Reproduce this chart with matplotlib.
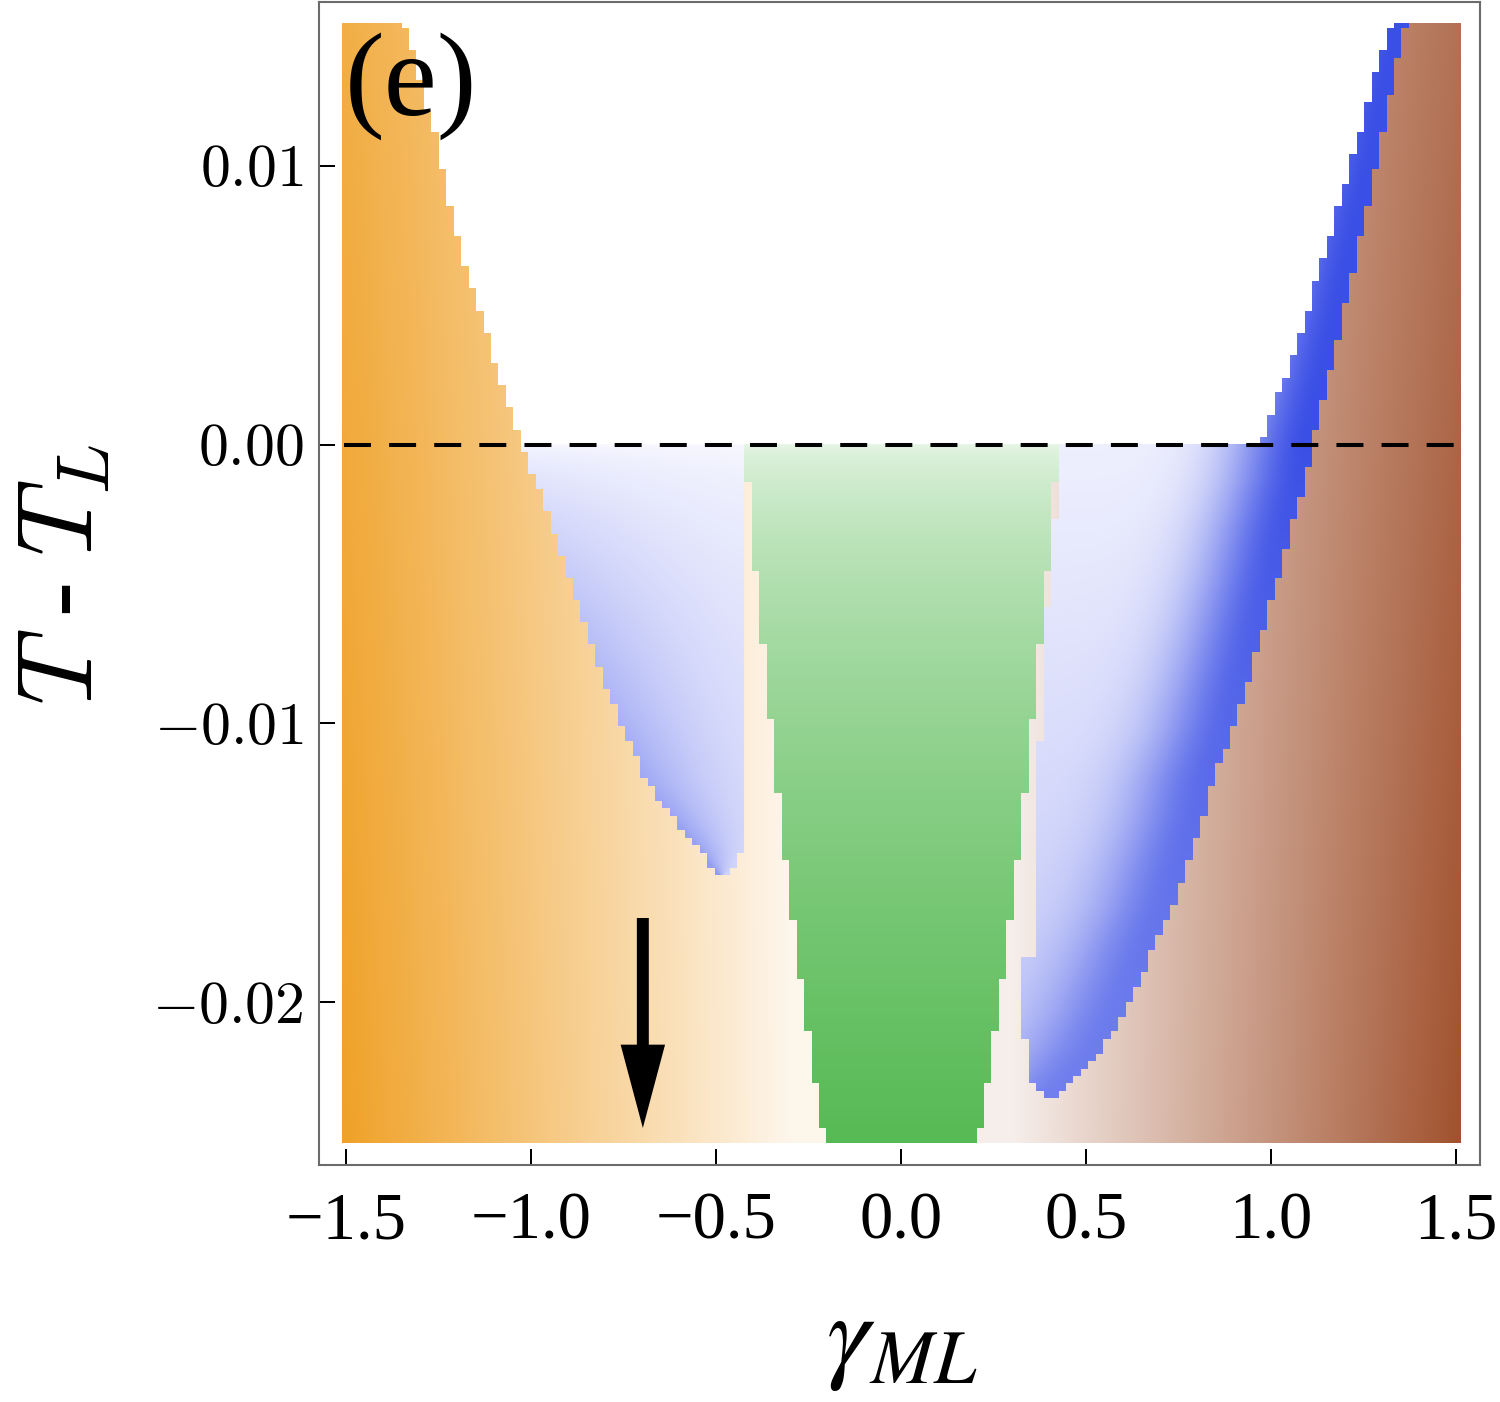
import numpy as np
import matplotlib
matplotlib.use('Agg')
import matplotlib.pyplot as plt

plt.rcParams['font.family'] = ['Liberation Serif', 'DejaVu Serif']
plt.rcParams['mathtext.fontset'] = 'stix'

# phase boundaries (T - T_L given in units of 1e-3)
orange_edge_y = np.array([15.10, 13.01, 11.11, 9.13, 7.24, 5.55, 3.87, 2.15, 0.46, -0.19,
                          -2.60, -4.97, -7.35, -9.78, -12.14, -13.36, -14.54, -15.15, -15.55]) * 1e-3
orange_edge_x = np.array([-1.342, -1.300, -1.257, -1.230, -1.197, -1.154, -1.116, -1.081, -1.038, -1.023,
                          -0.951, -0.890, -0.831, -0.767, -0.686, -0.618, -0.546, -0.511, -0.482])

left_blue_right_y = np.array([0.0, -13.9, -14.6, -15.15, -15.55]) * 1e-3
left_blue_right_x = np.array([-0.415, -0.415, -0.428, -0.450, -0.482])

green_y = np.array([0.0, -0.84, -3.07, -5.80, -8.38, -10.82, -13.19, -15.34, -17.34,
                    -19.28, -21.07, -22.72, -24.30, -25.06]) * 1e-3
green_halfwidth = np.array([0.418, 0.416, 0.403, 0.384, 0.365, 0.346, 0.327, 0.308, 0.289,
                            0.270, 0.251, 0.235, 0.214, 0.208])

right_blue_left_y = np.array([0.0, -1.74, -4.51, -6.29, -9.63, -13.82, -18.25, -18.5,
                              -21.4, -21.6, -22.9, -23.15, -23.45]) * 1e-3
right_blue_left_x = np.array([0.422, 0.416, 0.408, 0.389, 0.378, 0.355, 0.354, 0.330,
                              0.330, 0.349, 0.349, 0.368, 0.397])

brown_edge_y = np.array([15.10, 13.80, 11.40, 9.13, 6.99, 4.73, 2.68, 0.53, -1.26, -3.06,
                         -4.85, -6.65, -8.44, -10.24, -12.03, -13.47, -15.01, -16.59,
                         -18.02, -19.32, -20.40, -21.62, -22.34, -23.05, -23.45]) * 1e-3
brown_edge_x = np.array([1.362, 1.341, 1.303, 1.268, 1.232, 1.195, 1.159, 1.119, 1.092, 1.051,
                         1.016, 0.978, 0.938, 0.897, 0.843, 0.814, 0.773, 0.732,
                         0.681, 0.638, 0.600, 0.546, 0.503, 0.451, 0.397])

band_edge_y = np.array([15.10, 13.70, 11.76, 10.11, 8.17, 6.63, 4.95, 3.40, 2.07, 0.64, 0.0]) * 1e-3
band_edge_x = np.array([1.327, 1.286, 1.249, 1.214, 1.173, 1.138, 1.100, 1.065, 1.024, 0.989, 0.972])

left_blue_min = -15.55e-3
right_blue_min = -23.45e-3

xticks = [-1.5, -1.0, -0.5, 0.0, 0.5, 1.0, 1.5]
xtick_labels = ['\u22121.5', '\u22121.0', '\u22120.5', '0.0', '0.5', '1.0', '1.5']
yticks = [0.01, 0.0, -0.01, -0.02]
ytick_labels = ['$0.01$', '$0.00$', '$-0.01$', '$-0.02$']

arrow_x = -0.697
arrow_tail = -0.016985
arrow_tip = -0.024521

# extent of the density plot
x0, x1 = -1.511, 1.511
y0, y1 = -0.02506, 0.0151


def edge(y, ys, xs):
    order = np.argsort(ys)
    return np.interp(y, ys[order], xs[order])


def mix(c0, c1, t):
    t = np.clip(t, 0, 1)[..., None]
    return np.array(c0) * (1 - t) + np.array(c1) * t


nx, ny = 1118, 1121
xs = x0 + (np.arange(nx) + 0.5) * (x1 - x0) / nx
ys = y0 + (np.arange(ny) + 0.5) * (y1 - y0) / ny
X, Y = np.meshgrid(xs, ys)

# coarse cells give the stepped region edges
dx, dy = 0.02015, 0.0002666
Xq = (np.floor(X / dx) + 0.5) * dx
Yq = (np.floor(Y / dy) + 0.5) * dy
yfrac = (Y - y0) / (y1 - y0)

rgb = np.ones((ny, nx, 3))

left = Xq < 0
Lq = edge(Yq, orange_edge_y, orange_edge_x)
m = left & ((Yq < 0) | (Xq < Lq))
t = np.clip((-0.3 - X) / 1.2, 0, 1) * (1 - 0.15 * yfrac)
rgb[m] = mix((0.995, 0.965, 0.925), (0.94, 0.635, 0.16), t)[m]

right = ~left
Rq = edge(Yq, brown_edge_y, brown_edge_x)
m = right & ((Yq < 0) | (Xq > Rq))
t = np.clip((X - 0.3) / 1.21, 0, 1) * (1 - 0.2 * yfrac)
rgb[m] = mix((0.965, 0.935, 0.92), (0.63, 0.32, 0.18), t)[m]

# green phase
m = (Yq < 0) & (np.abs(Xq) < edge(Yq, green_y, green_halfwidth))
t = np.clip(-Y / 0.025, 0, 1) ** 0.6
rgb[m] = mix((0.91, 0.965, 0.905), (0.34, 0.73, 0.33), t)[m]

pale_blue = (0.975, 0.975, 1.0)
mid_blue = (0.40, 0.46, 0.93)
dark_blue = (0.23, 0.31, 0.90)

# left blue pocket
m = (Yq < 0) & (Yq > left_blue_min) & (Xq >= Lq) & (Xq <= edge(Yq, left_blue_right_y, left_blue_right_x))
L = edge(Y, orange_edge_y, orange_edge_x)
Br = edge(Y, left_blue_right_y, left_blue_right_x)
close = np.clip(1 - (X - L) / np.maximum(Br - L, 1e-6), 0, 1)
depth = np.clip(-Y / 0.0155, 0, 1)
s = depth ** 0.6 * (0.28 + 0.42 * close ** 1.5)
rgb[m] = mix(pale_blue, mid_blue, s)[m]

# right blue pocket and the dark band along the brown edge
m = ((Yq < 0) & (Yq > right_blue_min) & (Xq >= edge(Yq, right_blue_left_y, right_blue_left_x)) & (Xq <= Rq)) | \
    ((Yq >= 0) & (Xq > edge(Yq, band_edge_y, band_edge_x)) & (Xq <= Rq))
depth = np.clip(-Y / 0.0234, 0, 1)
base = mix(pale_blue, mid_blue, 0.07 + 0.30 * depth)
dist = edge(Y, brown_edge_y, brown_edge_x) - X
wd = np.exp(-(np.maximum(dist - 0.015, 0) / 0.2) ** 2) * (1 - 0.4 * depth)
col = base * (1 - wd[..., None]) + np.array(dark_blue) * wd[..., None]
rgb[m] = col[m]

fig = plt.figure(figsize=(15, 14.02), dpi=100)
ax = fig.add_axes([319 / 1500, 1 - 1165 / 1402, 1161 / 1500, 1163 / 1402])

ax.imshow(rgb, extent=[x0, x1, y0, y1], origin='lower', aspect='auto', interpolation='nearest', zorder=0)
ax.plot([-1.505, 1.505], [0, 0], color='black', lw=2.9, dashes=(6.7, 4.5), zorder=2)
ax.annotate('', xy=(arrow_x, arrow_tip), xytext=(arrow_x, arrow_tail),
            arrowprops=dict(width=8.6, headwidth=32, headlength=60, shrink=0,
                            facecolor='black', edgecolor='none'), zorder=3)

ax.set_xlim(-1.572, 1.565)
ax.set_ylim(-0.025849, 0.015885)

for sp in ax.spines.values():
    sp.set_color('#6b6b6b')
    sp.set_linewidth(1.5)

ax.set_xticks(xticks, xtick_labels, fontsize=48)
ax.set_yticks(yticks, ytick_labels, fontsize=43, math_fontfamily='cm')
ax.tick_params(direction='in', length=11.5, width=1.44, color='black', top=False, right=False)
ax.tick_params(axis='x', pad=19)
ax.tick_params(axis='y', pad=10.8)

ax.set_xlabel(r'$\gamma_{ML}$', fontsize=78)
ax.xaxis.set_label_coords(0.502, -0.112)
ax.set_ylabel('$T$ - $T_L$', fontsize=76, math_fontfamily='cm')
ax.yaxis.set_label_coords(-0.176, 0.508)

fig.text(345 / 1500, 1 - 115 / 1402, '(e)', fontsize=86, ha='left', va='baseline')

fig.savefig('out.png', dpi=100)
